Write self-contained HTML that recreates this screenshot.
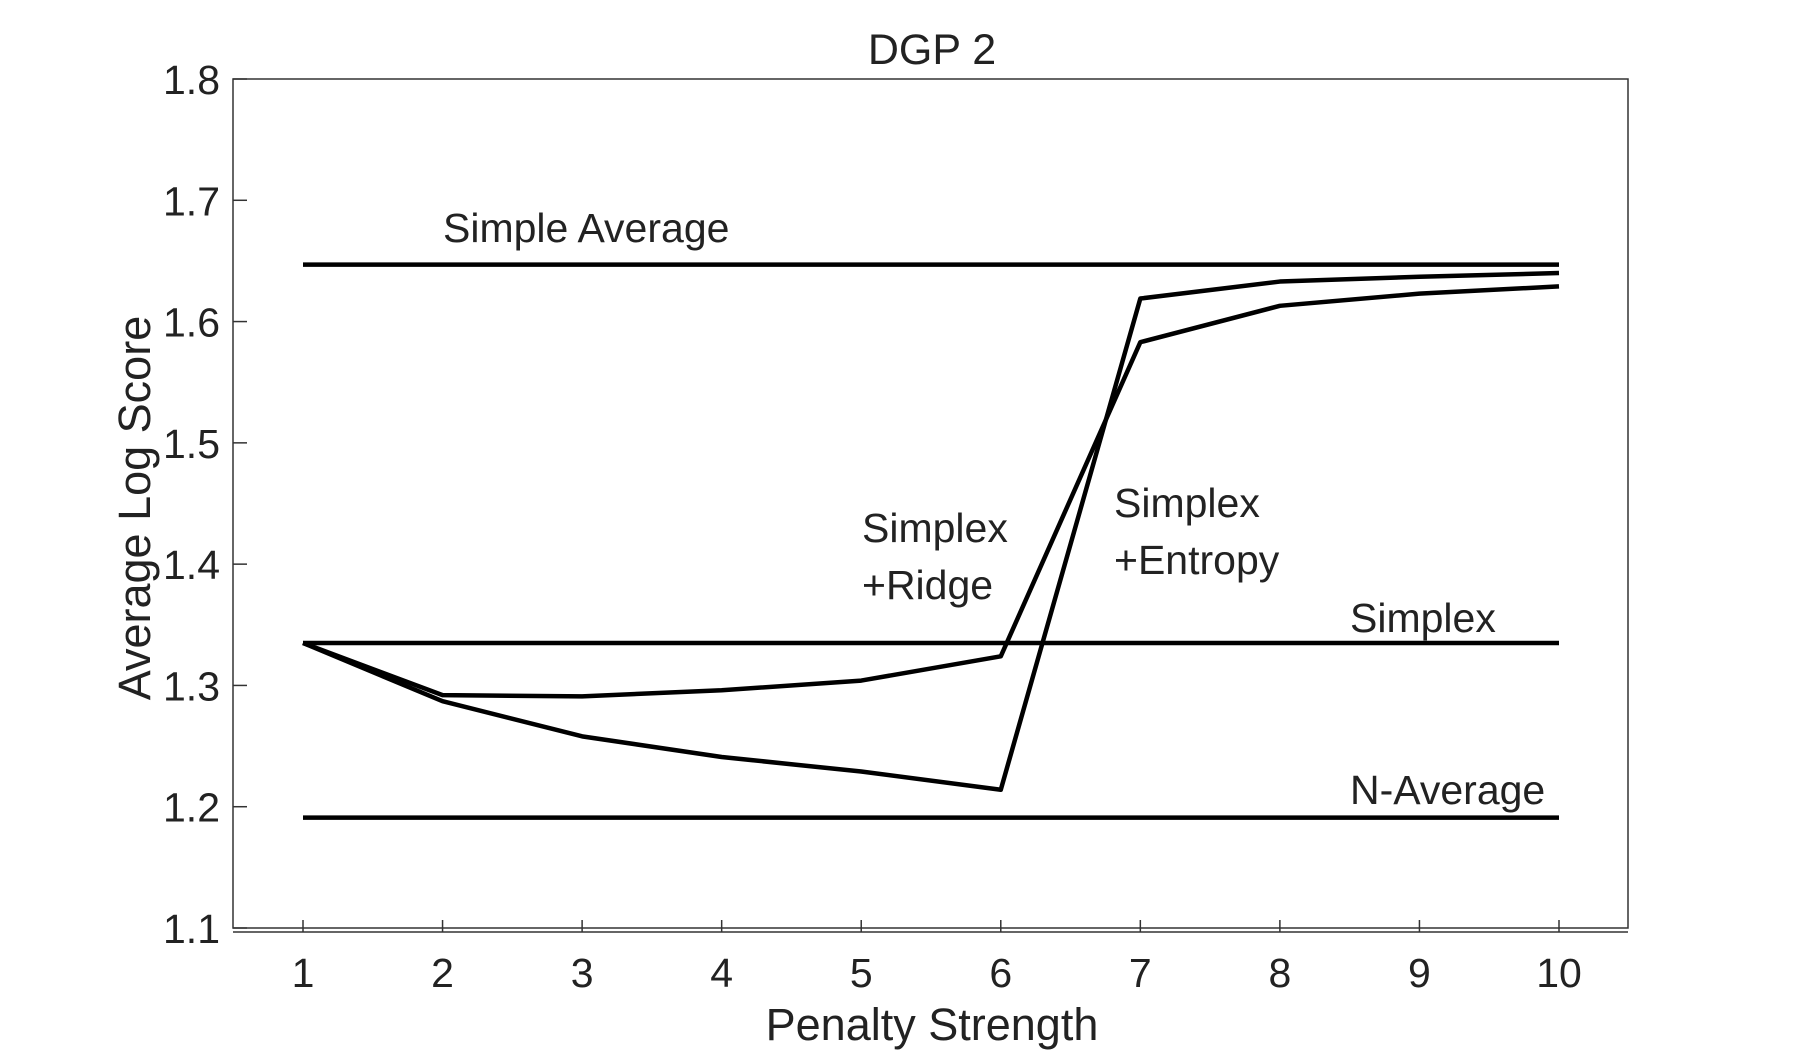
<!DOCTYPE html>
<html><head><meta charset="utf-8"><style>
body{margin:0;background:#fff}
svg text{font-family:"Liberation Sans",sans-serif;fill:#222}
</style></head><body>
<svg id="chart" width="1800" height="1050" xmlns="http://www.w3.org/2000/svg">
<g id="axes"></g>
<g id="series"></g>
<g id="labels"></g>
</svg>
<script>
const xCats = [1,2,3,4,5,6,7,8,9,10];
const yTicks = [1.1,1.2,1.3,1.4,1.5,1.6,1.7,1.8];
const ridgeVals = [1.335,1.292,1.291,1.296,1.304,1.324,1.583,1.613,1.623,1.629];
const entropyVals = [1.335,1.287,1.258,1.241,1.229,1.214,1.619,1.633,1.637,1.640];
const simpleAvgVal = [1.647];
const simplexVal = [1.335];
const nAvgVal = [1.191];

const NS="http://www.w3.org/2000/svg";
const L=233,R=1628,T=79,B=928;
const X=v=>303+(v-1)*(1559-303)/9;
const Y=v=>T+(1.8-v)*(B-T)/0.7;
function mk(tag,attrs,parent,txt){const e=document.createElementNS(NS,tag);for(const k in attrs)e.setAttribute(k,attrs[k]);if(txt!==undefined)e.textContent=txt;parent.appendChild(e);return e;}
const ax=document.getElementById('axes'),se=document.getElementById('series'),lb=document.getElementById('labels');
let box=mk('rect',{x:L,y:T,width:R-L,height:B-T,fill:'none',stroke:'#333','stroke-width':1.5},ax);


let bl=mk('line',{x1:L,x2:R,y1:B+4,y2:B+4,stroke:'#333','stroke-width':1.5},ax);


xCats.forEach(c=>{
  let t=mk('line',{x1:X(c),x2:X(c),y1:B+4,y2:B-8,stroke:'#333','stroke-width':1.5},ax);
  
  
  let s=mk('text',{x:X(c),y:987,'text-anchor':'middle','font-size':41},ax,String(c));
  
  
});
yTicks.forEach(v=>{
  let t=mk('line',{x1:L,x2:L+14,y1:Y(v),y2:Y(v),stroke:'#333','stroke-width':1.5},ax);
  
  
  let s=mk('text',{x:220,y:Y(v)+15,'text-anchor':'end','font-size':41},ax,v.toFixed(1));
  
  
});
function hline(val,name){
  let l=mk('line',{x1:X(1),x2:X(10),y1:Y(val),y2:Y(val),stroke:'#000','stroke-width':4.5},se);
  
  
}
hline(simpleAvgVal[0],'simple-average-line');
hline(simplexVal[0],'simplex-line');
hline(nAvgVal[0],'n-average-line');
function poly(vals,name){
  let p=mk('polyline',{points:vals.map((v,i)=>X(xCats[i])+','+Y(v)).join(' '),fill:'none',stroke:'#000','stroke-width':4.5,'stroke-linejoin':'round'},se);
  
  
}
poly(ridgeVals,'simplex-ridge-line');
poly(entropyVals,'simplex-entropy-line');
function txt(x,y,s,name,size,extra){
  let e=mk('text',Object.assign({x:x,y:y,'font-size':size||41},extra||{}),lb,s);
  
  
}
txt(932,64,'DGP 2','chart-title',43,{'text-anchor':'middle'});
txt(932,1040,'Penalty Strength','x-axis-title',45,{'text-anchor':'middle'});
txt(0,0,'Average Log Score','y-axis-title',45,{'text-anchor':'middle',transform:'translate(150,508) rotate(-90)'});
txt(443,242,'Simple Average','simple-average-label');
txt(862,542,'Simplex','ridge-label-1');
txt(862,599,'+Ridge','ridge-label-2');
txt(1114,517,'Simplex','entropy-label-1');
txt(1114,574,'+Entropy','entropy-label-2');
txt(1350,632,'Simplex','simplex-label');
txt(1350,804,'N-Average','n-average-label');
</script>
</body></html>
